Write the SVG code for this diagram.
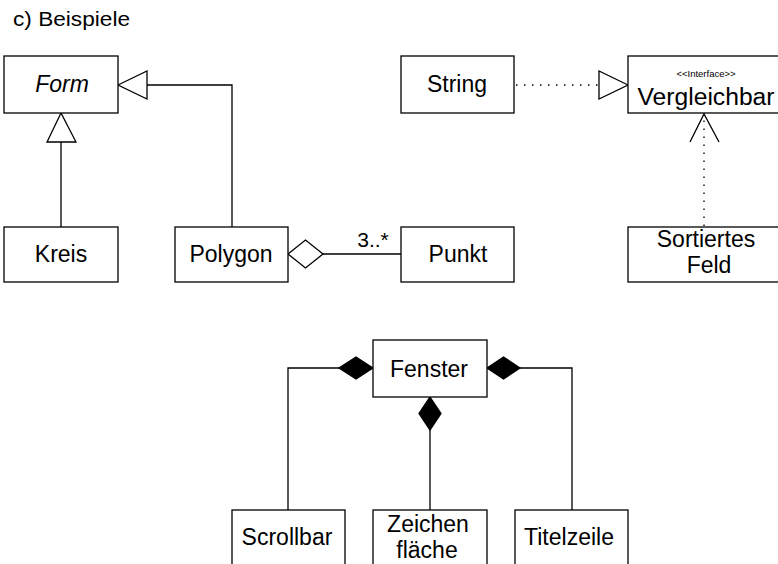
<svg xmlns="http://www.w3.org/2000/svg" width="778" height="564" viewBox="0 0 778 564">
<style>
  .box { fill: #fff; stroke: #000; stroke-width: 1.3; }
  .lbl { font-family: "Liberation Sans", Arial, sans-serif; font-size: 23px; fill: #000; text-anchor: middle; }
  .ln { fill: none; stroke: #000; stroke-width: 1.3; }
  .dot { fill: none; stroke: #000; stroke-width: 1.3; stroke-dasharray: 1.5 6.5; }
  .hollow { fill: #fff; stroke: #000; stroke-width: 1.3; }
  .solid { fill: #000; stroke: #000; stroke-width: 1.3; }
</style>
<rect width="778" height="564" fill="#fff"/>
<text x="13" y="25.5" font-family="Liberation Sans, Arial, sans-serif" font-size="19.5" textLength="117" lengthAdjust="spacingAndGlyphs">c) Beispiele</text>

<g id="connectors">
  <line class="ln" x1="61" y1="227" x2="61" y2="142"/>
  <polygon class="hollow" points="61,113 47,142 76,142"/>
  <polyline class="ln" points="232,227 232,85 147,85"/>
  <polygon class="hollow" points="118,85 147,71 147,99"/>
  <line class="ln" x1="323" y1="254" x2="401" y2="254"/>
  <polygon class="hollow" points="288,254 305.5,240 323,254 305.5,268"/>
  <text class="lbl" x="373" y="247" style="font-size:21px">3..*</text>
  <line class="dot" x1="516" y1="85" x2="599" y2="85"/>
  <polygon class="hollow" points="628,85 599,71 599,99"/>
  <line class="dot" x1="704" y1="226" x2="704" y2="118"/>
  <polyline class="ln" points="690,142 704,114 719,142"/>
  <polyline class="ln" points="339,368 288,368 288,510"/>
  <polygon class="solid" points="373,368 356,357 339,368 356,379"/>
  <polyline class="ln" points="520,368 572,368 572,510"/>
  <polygon class="solid" points="487,368 503.5,357 520,368 503.5,379"/>
  <line class="ln" x1="430" y1="430" x2="430" y2="510"/>
  <polygon class="solid" points="430,397 441,413.5 430,430 419,413.5"/>
</g>

<g id="form"><rect class="box" x="4" y="56" width="114" height="57"/><text class="lbl" x="62" y="92" font-style="italic">Form</text></g>
<g id="kreis"><rect class="box" x="4" y="227" width="114" height="55"/><text class="lbl" x="61" y="262">Kreis</text></g>
<g id="polygon"><rect class="box" x="175" y="227" width="113" height="55"/><text class="lbl" x="231" y="262">Polygon</text></g>
<g id="punkt"><rect class="box" x="401" y="227" width="113" height="55"/><text class="lbl" x="458" y="262">Punkt</text></g>
<g id="string"><rect class="box" x="401" y="56" width="113" height="57"/><text class="lbl" x="457" y="92">String</text></g>
<g id="vergleichbar"><rect class="box" x="628" y="56" width="170" height="57"/>
  <text class="lbl" x="706" y="77" style="font-size:9.5px">&lt;&lt;Interface&gt;&gt;</text>
  <text class="lbl" x="706" y="105" textLength="137" lengthAdjust="spacingAndGlyphs">Vergleichbar</text></g>
<g id="sortiertesfeld"><rect class="box" x="628" y="227" width="170" height="55"/>
  <text class="lbl" x="706" y="247">Sortiertes</text><text class="lbl" x="709" y="273">Feld</text></g>
<g id="fenster"><rect class="box" x="373" y="340" width="114" height="57"/><text class="lbl" x="429" y="377">Fenster</text></g>
<g id="scrollbar"><rect class="box" x="232" y="510" width="113" height="70"/><text class="lbl" x="287" y="545">Scrollbar</text></g>
<g id="zeichenflaeche"><rect class="box" x="373" y="510" width="114" height="70"/><text class="lbl" x="428" y="532">Zeichen</text><text class="lbl" x="427" y="558">fläche</text></g>
<g id="titelzeile"><rect class="box" x="515" y="510" width="113" height="70"/><text class="lbl" x="569" y="545">Titelzeile</text></g>
</svg>
